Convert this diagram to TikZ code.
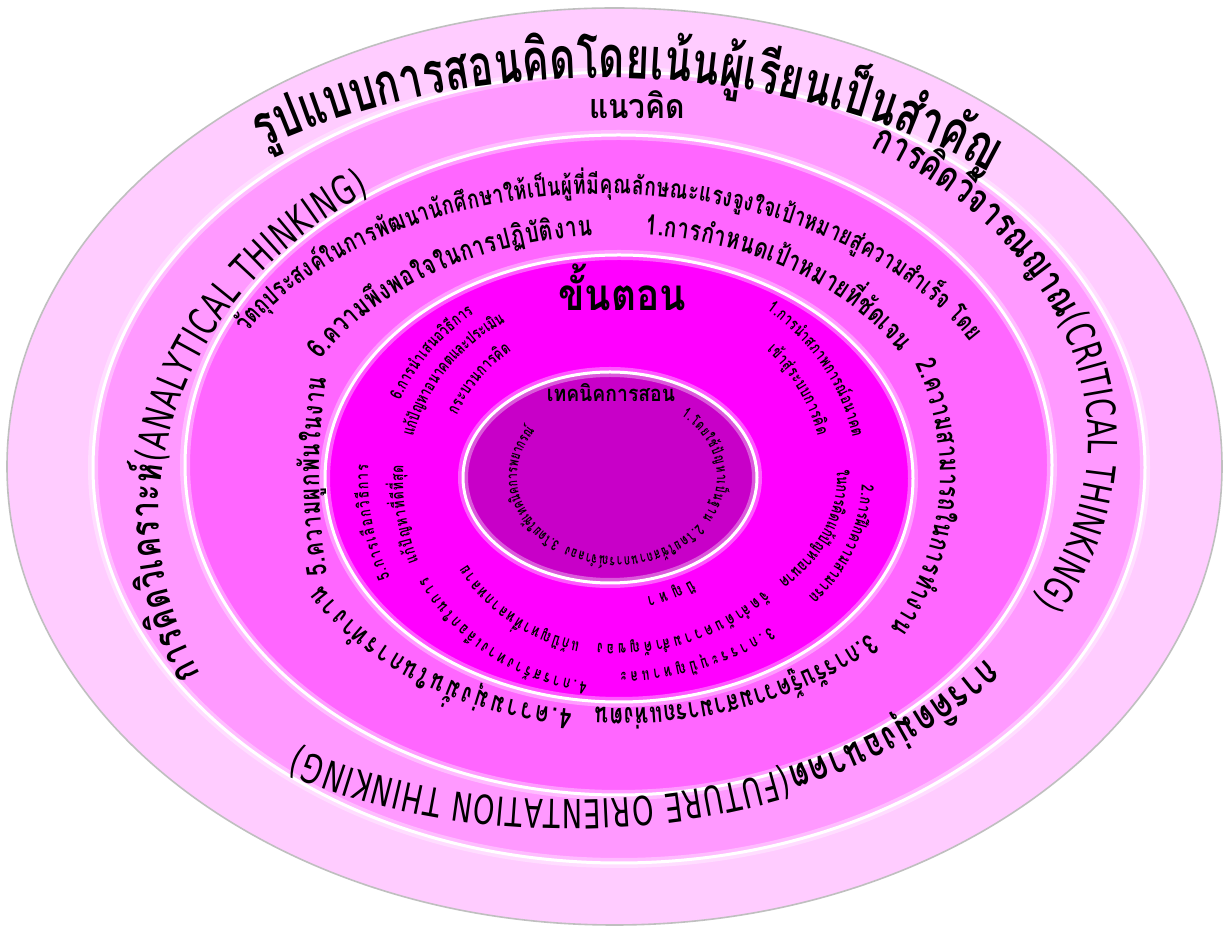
\documentclass[tikz,border=0pt]{standalone}
\usepackage{fontspec}
\usetikzlibrary{decorations.text}
\newfontfamily\thaiA[Script=Thai,FakeStretch=0.68]{Loma}
\newfontfamily\thaiB[Script=Thai,FakeStretch=0.74]{Loma}
\newfontfamily\thaiT[Script=Thai,FakeStretch=0.72]{Loma}
\newfontfamily\thaiH[Script=Thai,FakeStretch=0.69]{Loma}
\newfontfamily\thaiC[Script=Thai,FakeStretch=0.88]{Loma}
\newfontfamily\latA[FakeStretch=0.68]{DejaVu Sans}
\definecolor{ringA}{HTML}{FFCCFF}
\definecolor{ringB}{HTML}{FF99FF}
\definecolor{ringC}{HTML}{FF66FF}
\definecolor{ringD}{HTML}{FF00FF}
\definecolor{ringE}{HTML}{C800C8}
\newcommand\ffTitle{\thaiH\bfseries\fontsize{58}{60}\selectfont}
\newcommand\ffRing{\thaiB\bfseries\fontsize{40}{44}\selectfont}
\newcommand\ffLat{\latA\fontsize{40}{44}\selectfont}
\newcommand\ffOuter{\thaiB\bfseries\fontsize{26}{28}\selectfont}
\newcommand\ffItem{\thaiB\bfseries\fontsize{28}{30}\selectfont}
\newcommand\ffStep{\thaiT\bfseries\fontsize{17}{19}\selectfont}
\newcommand\ffInner{\thaiA\bfseries\fontsize{15}{17}\selectfont}
% #1 cx #2 cy (pixel, y down) #3 a #4 b #5 start #6 end #7 font #8 text
\newcommand\arctext[8]{%
  \path[decorate,decoration={text along path,text align=fit to path,text={|#7|#8}}]
    (#1,929-#2) ++(#5:#3 and #4) arc[start angle=#5,end angle=#6,x radius=#3,y radius=#4];}
\tikzset{
  glow/.style={draw=white,line width=10pt,opacity=0.35},
  rim/.style={draw=white,line width=3pt}
}
\begin{document}
\begin{tikzpicture}[x=1pt,y=1pt]
\useasboundingbox (0,0) rectangle (1224,929);
\fill[white] (0,0) rectangle (1224,929);
% rings
\fill[ringA] (614.5,929-466.5) ellipse [x radius=607.5,y radius=458.5];
\draw[black!25,line width=1.6pt] (614.5,929-466.5) ellipse [x radius=607.5,y radius=458.5];
\fill[ringB] (619,929-467.5) ellipse [x radius=526,y radius=395.5];
\path[glow] (619,929-467.5) ellipse [x radius=526,y radius=395.5];
\path[rim] (619,929-467.5) ellipse [x radius=526,y radius=395.5];
\fill[ringC] (618.5,929-465) ellipse [x radius=433.5,y radius=330];
\path[glow] (618.5,929-465) ellipse [x radius=433.5,y radius=330];
\path[rim] (618.5,929-465) ellipse [x radius=433.5,y radius=330];
\fill[ringD] (619,929-478.5) ellipse [x radius=294,y radius=223.5];
\path[glow] (619,929-478.5) ellipse [x radius=294,y radius=223.5];
\path[rim] (619,929-478.5) ellipse [x radius=294,y radius=223.5];
\fill[ringE] (610,929-477.5) ellipse [x radius=147,y radius=105.5];
\path[glow] (610,929-477.5) ellipse [x radius=147,y radius=105.5];
\path[rim] (610,929-477.5) ellipse [x radius=147,y radius=105.5];
% title
\arctext{602}{468}{594}{390}{124.9}{49.3}{\ffTitle}{{รู}ปแบบการสอน{คิ}ดโดยเ{น้}น{ผู้}เ{รี}ยนเ{ป็}น{สำ}{คั}ญ}
% ring 2
\node[font=\thaiC\bfseries\fontsize{34}{36}\selectfont] (naewkhit) at (637,929-105) {แนวคิด};
\arctext{618}{440}{470}{347}{57.5}{-27.5}{\ffRing}{การ{คิ}ด{วิ}จารณญาณ|\ffLat|(CRITICAL THINKING)}
\arctext{570}{450}{518}{350}{-36.5}{-121.7}{\ffRing}{การ{คิ}ด{มุ่}งอนาคต|\ffLat|(FUTURE ORIENTATION THINKING)}
\arctext{600}{515}{441}{378}{205}{121.5}{\ffRing}{การ{คิ}ด{วิ}เคราะ{ห์}|\ffLat|(ANALYTICAL THINKING)}
% ring 3
\arctext{605}{468}{412}{274}{150.6}{27.4}{\ffOuter}{{วั}ต{ถุ}ประสง{ค์}ในการ{พั}ฒนา{นั}ก{ศึ}กษาใ{ห้}เ{ป็}น{ผู้}{ที่}{มี}{คุ}ณ{ลั}กษณะแรง{จู}งใจเ{ป้}าหมาย{สู่}ความ{สำ}เ{ร็}จ โดย}
\arctext{619}{474}{340}{239}{151.5}{94.5}{\ffItem}{6.ความ{พึ}งพอใจในการป{ฏิ}{บั}{ติ}งาน}
\arctext{619}{474}{326}{240}{85.4}{30.5}{\ffItem}{1.การ{กำ}หนดเ{ป้}าหมาย{ที่}{ชั}ดเจน}
\arctext{619}{474}{321}{290}{22.4}{-32}{\ffItem}{2.ความสามารถในการ{ทำ}งาน}
\arctext{619}{474}{343}{234}{-43}{-94}{\ffItem}{3.การ{รั}บ{รู้}ความสามารถแ{ห่}งตน}
\arctext{619}{474}{336}{238}{-97.9}{-152.2}{\ffItem}{4.ความ{มุ่}ง{มั่}นในการ{ทำ}งาน}
\arctext{619}{474}{300}{420}{193.9}{166.8}{\ffItem}{5.ความ{ผู}ก{พั}นในงาน}
% ring 4 (steps)
\node[font=\thaiC\bfseries\fontsize{44}{46}\selectfont] (khantorn) at (622,929-287) {ขั้นตอน};
\arctext{615}{478}{242}{216}{51.1}{10.9}{\ffStep}{1.การ{นำ}สภาพการ{ณ์}อนาคต}
\arctext{615}{478}{208}{187}{43.1}{13}{\ffStep}{เ{ข้}า{สู่}ระบบการ{คิ}ด}
\arctext{615}{478}{247}{191}{-2.1}{-38.5}{\ffStep}{2.การ{ฝึ}กความสามารถ}
\arctext{615}{478}{222}{152}{3}{-43}{\ffStep}{ในการ{คิ}ดแ{ก้}{ปั}ญหาอนาคต}
\arctext{615}{478}{244}{194}{-50.6}{-88.8}{\ffStep}{3.การระ{บุ}{ปั}ญหาและ}
\arctext{615}{478}{202}{166}{-42.6}{-95}{\ffStep}{{จั}ด{ลำ}{ดั}บความ{สำ}{คั}ญของ}
\arctext{615}{478}{140}{122}{-56.7}{-76.8}{\ffStep}{{ปั}ญหา}
\arctext{615}{478}{214}{206}{-97.5}{-151.3}{\ffStep}{4.การส{ร้}างทางเ{ลื}อกในการ}
\arctext{615}{478}{173}{167.5}{-101.7}{-148.7}{\ffStep}{แ{ก้}{ปั}ญหา{ที่}หลากหลาย}
\arctext{615}{478}{247}{241}{204.5}{176.9}{\ffStep}{5.การเ{ลื}อก{วิ}{ธี}การ}
\arctext{615}{478}{212}{225}{201.9}{176.7}{\ffStep}{แ{ก้}{ปั}ญหา{ที่}{ดี}{ที่}{สุ}ด}
\arctext{615}{478}{232}{207}{157.9}{127.5}{\ffStep}{6.การ{นำ}เสนอ{วิ}{ธี}การ}
\arctext{615}{478}{207}{184}{167.1}{122}{\ffStep}{แ{ก้}{ปั}ญหาอนาคตและประเ{มิ}น}
\arctext{615}{478}{172}{159}{156.7}{127}{\ffStep}{กระบวนการ{คิ}ด}
% inner
\node[font=\thaiC\bfseries\fontsize{22}{24}\selectfont] (technic) at (611,929-393) {เทคนิคการสอน};
\arctext{617}{477}{100}{80}{50}{-31}{\ffInner}{1.โดยใ{ช้}{ปั}ญหาเ{ป็}นฐาน}
\arctext{617}{477}{100}{80}{-36}{-120}{\ffInner}{2.โดยใ{ช้}สถานการ{ณ์}{จำ}ลอง}
\arctext{617}{477}{100}{80}{-124.6}{-215}{\ffInner}{3.โดยใ{ช้}เทค{นิ}คการพยากร{ณ์}}
\end{tikzpicture}
\end{document}
